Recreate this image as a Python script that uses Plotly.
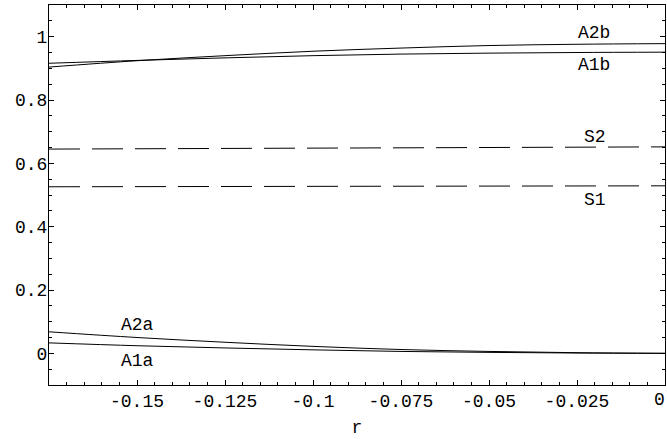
import plotly.graph_objects as go

r = [-0.175, -0.15, -0.125, -0.1, -0.075, -0.05, -0.025, 0.0]
A1b = [0.916, 0.925, 0.933, 0.940, 0.945, 0.948, 0.950, 0.951]
A2b = [0.904, 0.924, 0.940, 0.954, 0.964, 0.972, 0.976, 0.978]
A1a = [0.033, 0.024, 0.017, 0.011, 0.006, 0.003, 0.001, 0.000]
A2a = [0.068, 0.050, 0.035, 0.022, 0.012, 0.006, 0.002, 0.000]
S1 = [0.526, 0.5264, 0.5269, 0.5273, 0.5277, 0.5281, 0.5286, 0.529]
S2 = [0.645, 0.646, 0.647, 0.648, 0.649, 0.650, 0.651, 0.652]

x_tickvals = [-0.15, -0.125, -0.1, -0.075, -0.05, -0.025]
x_ticktext = ["-0.15", "-0.125", "-0.1", "-0.075", "-0.05", "-0.025"]
x_end_tick = 0
x_end_text = "0"
y_tickvals = [0, 0.2, 0.4, 0.6, 0.8, 1]
y_ticktext = ["0", "0.2", "0.4", "0.6", "0.8", "1"]

labels = ["A2b", "A1b", "S2", "S1", "A2a", "A1a"]
label_x = [-0.0202, -0.0202, -0.0199, -0.0199, -0.150, -0.150]
label_y = [1.011, 0.911, 0.682, 0.484, 0.089, -0.023]

FONT = "Liberation Mono, Courier New, monospace"
FS = 18

fig = go.Figure()
for ys in (A1b, A2b, A1a, A2a):
    fig.add_trace(go.Scatter(x=r, y=ys, mode="lines", line=dict(color="black", width=1, shape="spline"),
                             showlegend=False, hoverinfo="skip"))
for ys in (S1, S2):
    fig.add_trace(go.Scatter(x=r, y=ys, mode="lines", line=dict(color="black", width=1, dash="31px,12px"),
                             showlegend=False, hoverinfo="skip"))

for t, lx, ly in zip(labels, label_x, label_y):
    fig.add_annotation(x=lx, y=ly, text=t, showarrow=False, xanchor="center", yanchor="middle",
                       font=dict(family=FONT, size=FS, color="black"))

# tick label at the right end of the x axis (plotly drops it at the range edge)
fig.add_annotation(x=x_end_tick, xref="x", y=0, yref="paper", yshift=-15, xshift=2, text=x_end_text,
                   showarrow=False, xanchor="right", yanchor="middle",
                   font=dict(family=FONT, size=FS, color="black"))

axis_common = dict(showline=True, linecolor="black", linewidth=1, mirror="allticks",
                   ticks="inside", ticklen=5, tickcolor="black", tickwidth=1,
                   showgrid=False, zeroline=False, automargin=False,
                   tickfont=dict(family=FONT, size=FS, color="black"))

fig.update_xaxes(range=[-0.175, 0], tickmode="array", tickvals=x_tickvals, ticktext=x_ticktext,
                 minor=dict(tickmode="linear", tick0=0, dtick=0.005, ticks="inside", ticklen=3,
                            tickcolor="black", tickwidth=1, showgrid=False),
                 title=dict(text="r", font=dict(family=FONT, size=FS, color="black"), standoff=9),
                 ticklabelstandoff=-1,
                 **axis_common)
fig.update_yaxes(range=[-0.1, 1.1], tickmode="array", tickvals=y_tickvals, ticktext=y_ticktext,
                 minor=dict(tickmode="linear", tick0=0, dtick=0.05, ticks="inside", ticklen=3,
                            tickcolor="black", tickwidth=1, showgrid=False),
                 ticklabelstandoff=-3,
                 **axis_common)

fig.update_layout(width=667, height=439, margin=dict(l=49, r=2, t=5, b=54),
                  plot_bgcolor="white", paper_bgcolor="white")

fig.write_html("out.html", config={"responsive": False, "displayModeBar": False},
               post_script="document.body.style.margin='0';document.body.style.overflow='hidden';")
